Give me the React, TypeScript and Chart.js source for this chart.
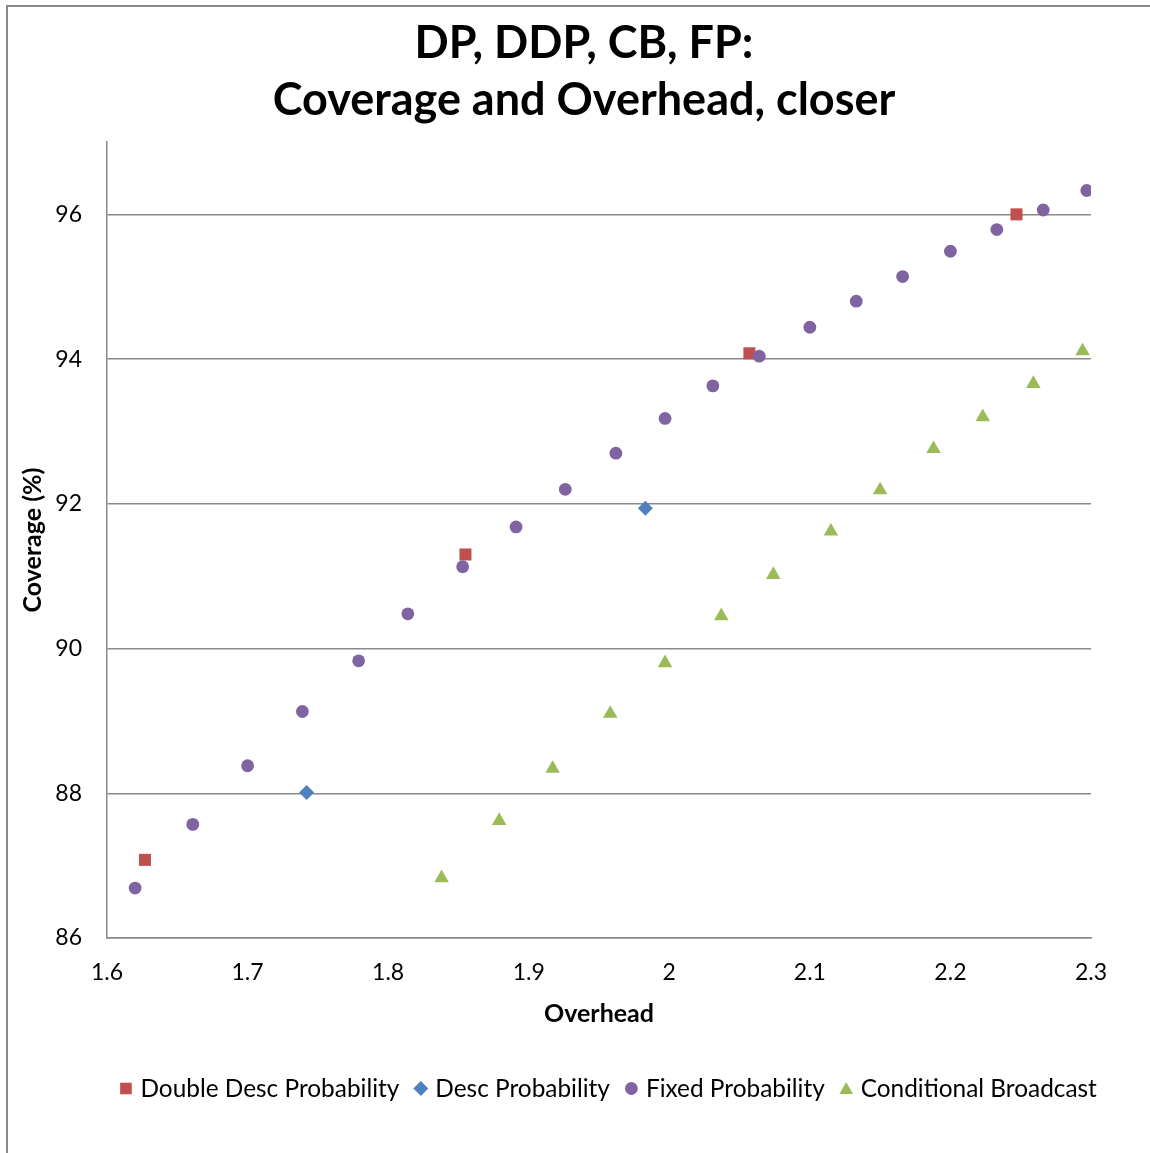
import React, { useEffect, useRef } from "react";
import { Chart, registerables } from "chart.js";

Chart.register(...registerables);

const FONT = "Lato, 'Open Sans', sans-serif";

const titleLines = ["DP, DDP, CB, FP:", "Coverage and Overhead, closer"];
const xAxisTitle = "Overhead";
const yAxisTitle = "Coverage (%)";

const xTicks = [1.6, 1.7, 1.8, 1.9, 2, 2.1, 2.2, 2.3];
const yTicks = [86, 88, 90, 92, 94, 96];
const xMin = 1.6;
const xMax = 2.3;
const yMin = 86;
const yMax = 97;

const seriesNames = ["Double Desc Probability", "Desc Probability", "Fixed Probability", "Conditional Broadcast"];
const seriesColors = ["#C0504D", "#4F81BD", "#8064A2", "#9BBB59"];
const seriesMarkers = ["rect", "rectRot", "circle", "triangle"];

const doubleDescX = [1.627, 1.855, 2.057, 2.247];
const doubleDescY = [87.08, 91.3, 94.08, 96.0];

const descX = [1.742, 1.983];
const descY = [88.01, 91.94];

const fixedX = [1.62, 1.661, 1.7, 1.739, 1.779, 1.814, 1.853, 1.891, 1.926, 1.962, 1.997, 2.031, 2.064, 2.1, 2.133, 2.166, 2.2, 2.233, 2.266, 2.297];
const fixedY = [86.69, 87.57, 88.38, 89.13, 89.83, 90.48, 91.13, 91.68, 92.2, 92.7, 93.18, 93.63, 94.04, 94.44, 94.8, 95.14, 95.49, 95.79, 96.06, 96.33];

const condX = [1.838, 1.879, 1.917, 1.958, 1.997, 2.037, 2.074, 2.115, 2.15, 2.188, 2.223, 2.259, 2.294];
const condY = [86.83, 87.62, 88.34, 89.1, 89.8, 90.45, 91.02, 91.62, 92.19, 92.76, 93.2, 93.66, 94.11];

const seriesX = [doubleDescX, descX, fixedX, condX];
const seriesY = [doubleDescY, descY, fixedY, condY];

const GRID = "#8a8a8a";
const W = 1150;
const H = 1153;

// marker sizes (Chart.js radius) per marker style
const markerRadius: Record<string, number> = { rect: 8.5, rectRot: 7.5, circle: 6.4, triangle: 8.4 };

function drawLegendMarker(ctx: CanvasRenderingContext2D, style: string, cx: number, cy: number, color: string) {
  ctx.fillStyle = color;
  ctx.beginPath();
  if (style === "rect") {
    ctx.rect(cx - 5.8, cy - 5.8, 11.6, 11.6);
  } else if (style === "rectRot") {
    ctx.moveTo(cx, cy - 7.5);
    ctx.lineTo(cx + 7.5, cy);
    ctx.lineTo(cx, cy + 7.5);
    ctx.lineTo(cx - 7.5, cy);
    ctx.closePath();
  } else if (style === "circle") {
    ctx.arc(cx, cy, 6.4, 0, Math.PI * 2);
  } else {
    ctx.moveTo(cx, cy - 6.5);
    ctx.lineTo(cx + 6.8, cy + 5.5);
    ctx.lineTo(cx - 6.8, cy + 5.5);
    ctx.closePath();
  }
  ctx.fill();
}

const headerAndLegend = {
  id: "headerAndLegend",
  afterDraw(chart: any) {
    const ctx: CanvasRenderingContext2D = chart.ctx;
    ctx.save();
    ctx.fillStyle = "#000";
    ctx.textAlign = "center";
    ctx.textBaseline = "alphabetic";
    ctx.font = `bold 45px ${FONT}`;
    ctx.fillText(titleLines[0], 584, 58);
    ctx.fillText(titleLines[1], 584, 115);

    // legend row
    ctx.font = `24.4px ${FONT}`;
    const markerGap = 14.5;
    const itemGap = 21.5;
    const half = 6;
    const widths = seriesNames.map((n) => ctx.measureText(n).width);
    const total = half + seriesNames.length * markerGap + (seriesNames.length - 1) * itemGap + widths.reduce((a, b) => a + b, 0);
    let x = 608.4 - total / 2 + half;
    const markerY = 1088.5;
    const textY = 1096.5;
    ctx.textAlign = "left";
    seriesNames.forEach((name, i) => {
      drawLegendMarker(ctx, seriesMarkers[i], x, markerY, seriesColors[i]);
      ctx.fillStyle = "#000";
      ctx.fillText(name, x + markerGap, textY);
      x += markerGap + widths[i] + itemGap;
    });
    ctx.restore();
  },
};

export default function App() {
  const canvasRef = useRef<HTMLCanvasElement | null>(null);

  useEffect(() => {
    if (!canvasRef.current) return;
    const datasets = seriesNames.map((name, i) => ({
      label: name,
      data: seriesX[i].map((x, j) => ({ x, y: seriesY[i][j] })),
      backgroundColor: seriesColors[i],
      borderColor: seriesColors[i],
      pointStyle: seriesMarkers[i] as any,
      pointRadius: markerRadius[seriesMarkers[i]],
      pointBorderWidth: 0,
      showLine: false,
      order: seriesNames.length - i,
    }));

    const chart = new Chart(canvasRef.current, {
      type: "scatter",
      data: { datasets },
      plugins: [headerAndLegend],
      options: {
        animation: false,
        responsive: false,
        events: [],
        layout: { padding: { top: 142, left: 0, right: W - 1091, bottom: 0 } },
        plugins: {
          legend: { display: false },
          title: { display: false },
          tooltip: { enabled: false },
        },
        scales: {
          x: {
            type: "linear",
            min: xMin,
            max: xMax,
            afterBuildTicks: (s: any) => {
              s.ticks = xTicks.map((v) => ({ value: v }));
            },
            afterFit: (s: any) => {
              s.height = H - 938;
            },
            grid: { display: false },
            border: { display: true, color: GRID, width: 1.5 },
            ticks: {
              autoSkip: false,
              maxRotation: 0,
              padding: 13,
              color: "#000",
              font: { family: FONT, size: 23 },
              callback: (v: any) => String(v),
            },
            title: {
              display: true,
              text: xAxisTitle,
              color: "#000",
              font: { family: FONT, size: 25, weight: "bold" },
              padding: { top: 0, bottom: 124 },
            },
          },
          y: {
            type: "linear",
            min: yMin,
            max: yMax,
            afterBuildTicks: (s: any) => {
              s.ticks = yTicks.map((v) => ({ value: v }));
            },
            afterFit: (s: any) => {
              s.width = 107;
            },
            grid: { color: GRID, lineWidth: 1.5, drawTicks: false },
            border: { display: true, color: GRID, width: 1.5 },
            ticks: {
              padding: 25,
              color: "#000",
              font: { family: FONT, size: 23 },
              callback: (v: any) => String(v),
            },
            title: {
              display: true,
              text: yAxisTitle,
              color: "#000",
              font: { family: FONT, size: 25, weight: "bold" },
              padding: { top: 18, bottom: 0 },
            },
          },
        },
      } as any,
    });
    return () => chart.destroy();
  }, []);

  return (
    <div style={{ position: "absolute", left: 0, top: 0, width: W, height: H, overflow: "hidden", background: "#fff" }}>
      <div
        style={{
          position: "absolute",
          left: 6,
          top: 5,
          width: W + 20,
          height: H + 20,
          borderTop: "2px solid #8a8a8a",
          borderLeft: "2px solid #8a8a8a",
        }}
      />
      <canvas ref={canvasRef} width={W} height={H} style={{ position: "absolute", left: 0, top: 0, width: W, height: H }} />
    </div>
  );
}
